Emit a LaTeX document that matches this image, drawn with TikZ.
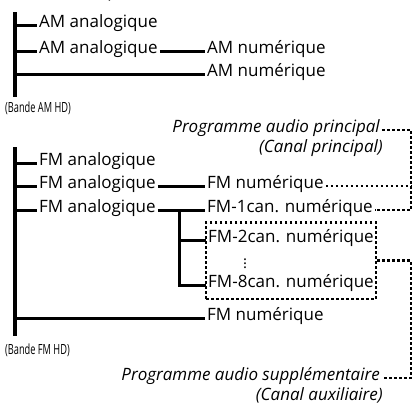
\documentclass[tikz,border=0pt]{standalone}
\usepackage{fontspec}
\setmainfont{Open Sans}
\newfontfamily\bandfont[FakeStretch=0.66]{Open Sans}
\usetikzlibrary{fit,calc}
\begin{document}
\begin{tikzpicture}[x=1pt,y=-1pt,
  lab/.style={font=\fontsize{17}{18}\selectfont, inner sep=2pt, anchor=mid west},
  labr/.style={font=\fontsize{17}{18}\selectfont\itshape, inner sep=2pt, anchor=mid east},
  band/.style={font=\bandfont\fontsize{14}{15}\selectfont, inner sep=0pt, anchor=west},
  ln/.style={line width=3pt},
  trunk/.style={line width=3.2pt},
  dots/.style={line width=2.8pt, dash pattern=on 2.6pt off 2.4pt}
]
\useasboundingbox (0,0) rectangle (413,407);
\begin{scope}
\clip (0,0) rectangle (413,407);
\node[labr] (auxtop) at (117,-4) {(Canal auxiliaire)};
\end{scope}

% ---------- AM ----------
\coordinate (amtop) at (15,12);
\coordinate (ambot) at (15,97);
\draw[trunk] (amtop) -- (ambot);
\node[lab] (am1) at (37,25) {AM analogique};
\node[lab] (am2) at (37,51) {AM analogique};
\node[lab] (amn1) at (205,51) {AM numérique};
\node[lab] (amn2) at (205,74) {AM numérique};
\draw[ln] (am1.mid west -| amtop) -- (am1.mid west);
\draw[ln] (am2.mid west -| amtop) -- (am2.mid west);
\draw[ln] (am2.mid east) -- (amn1.mid west);
\draw[ln] (amn2.mid west -| amtop) -- (amn2.mid west);
\node[band] (amband) at (5,108) {(Bande AM HD)};

% ---------- main programme ----------
\node[labr] (mainp) at (382,130) {Programme audio principal};
\node[labr] (mainc) at (385,150) {(Canal principal)};

% ---------- FM ----------
\coordinate (fmtop) at (15,147);
\coordinate (fmbot) at (15,336);
\draw[trunk] (fmtop) -- (fmbot);
\node[lab] (fa1) at (37,163) {FM analogique};
\node[lab] (fa2) at (37,186) {FM analogique};
\node[lab] (fa3) at (37,210) {FM analogique};
\node[lab] (fn1) at (205,186) {FM numérique};
\node[lab] (f1c) at (205,210) {FM-1can. numérique};
\node[lab] (f2c) at (206,240) {FM-2can. numérique};
\node[lab] (f8c) at (206,285) {FM-8can. numérique};
\node[font=\fontsize{15}{16}\selectfont, inner sep=0pt] (vd) at (245,261) {$\vdots$};
\node[lab] (fn2) at (205,318) {FM numérique};
\draw[ln] (fa1.mid west -| fmtop) -- (fa1.mid west);
\draw[ln] (fa2.mid west -| fmtop) -- (fa2.mid west);
\draw[ln] (fa3.mid west -| fmtop) -- (fa3.mid west);
\draw[ln] (fa2.mid east) -- (fn1.mid west);
\draw[ln] (fa3.mid east) -- (f1c.mid west);
\coordinate (sub) at (179,210);
\draw[ln] (sub) -- (sub |- f8c.mid west) -- (f8c.mid west);
\draw[ln] (sub |- f2c.mid west) -- (f2c.mid west);
\draw[ln] (fn2.mid west -| fmtop) -- (fn2.mid west);
\node[band] (fmband) at (5,350) {(Bande FM HD)};

% dotted box
\node[dots, draw, fit=(f2c)(f8c), inner xsep=0pt, inner ysep=5pt] (box) {};

% ---------- auxiliary programme ----------
\node[labr] (auxp) at (382,378) {Programme audio supplémentaire};
\node[labr] (auxc) at (385,398) {(Canal auxiliaire)};

% dotted connectors
\coordinate (dx) at (411,0);
\draw[dots] (mainp.mid east) -- (mainp.mid east -| dx) -- (f1c.mid east -| dx) -- (f1c.mid east);
\draw[dots] (fn1.mid east) -- (fn1.mid east -| dx);
\coordinate (bx) at ($(box.north east)!0.5!(box.south east)$);
\draw[dots] (bx) -- (bx -| dx) -- (auxp.mid east -| dx) -- (auxp.mid east);
\end{tikzpicture}
\end{document}
